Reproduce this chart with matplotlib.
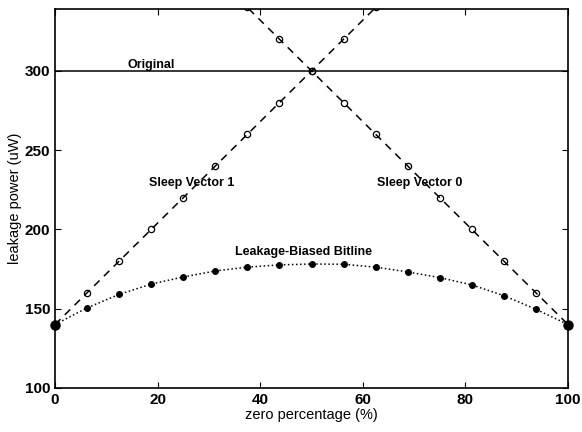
import numpy as np
import matplotlib
matplotlib.use("Agg")
from matplotlib import pyplot as plt

plt.rcParams['font.family'] = ['Liberation Sans', 'DejaVu Sans']

# zero percentage (%)
zero_pct = [0, 6.25, 12.5, 18.75, 25, 31.25, 37.5, 43.75, 50,
            56.25, 62.5, 68.75, 75, 81.25, 87.5, 93.75, 100]
original = [300] * len(zero_pct)
sleep_vec1 = [140, 160, 180, 200, 220, 240, 260, 280, 300,
              320, 340, 360, 380, 400, 420, 440, 460]
sleep_vec0 = sleep_vec1[::-1]
leak_biased = [140, 150.5, 159, 165.5, 170, 173.8, 176.2, 177.6, 178.2,
               178, 176.2, 173.2, 169.6, 165, 158.2, 149.6, 140]
end_x = [0, 100]
end_y = [140, 140]

fig = plt.figure(figsize=(5.82, 4.32), dpi=100)
ax = fig.add_axes([0.0945, 0.102, 0.8815, 0.877])

ax.plot(zero_pct, original, '-', color='black', lw=1.1)
ax.plot(zero_pct, sleep_vec1, '--', color='black', lw=1.1, marker='o',
        markersize=4.5, markerfacecolor='none', markeredgewidth=0.9, dashes=(5, 4))
ax.plot(zero_pct, sleep_vec0, '--', color='black', lw=1.1, marker='o',
        markersize=4.5, markerfacecolor='none', markeredgewidth=0.9, dashes=(5, 4))
ax.plot(zero_pct, leak_biased, ':', color='black', lw=1.1, marker='o',
        markersize=4, markerfacecolor='black')
ax.plot(end_x, end_y, 'o', color='black', markersize=6.5, clip_on=False, zorder=5)

# labels on the curves
fs = 9
ax.text(18.7, 304, 'Original', fontsize=fs, fontweight='bold', ha='center', va='center')
ax.text(26.7, 229, 'Sleep Vector 1', fontsize=fs, fontweight='bold', ha='center', va='center')
ax.text(71.1, 229, 'Sleep Vector 0', fontsize=fs, fontweight='bold', ha='center', va='center')
ax.text(48.5, 186, 'Leakage-Biased Bitline', fontsize=fs, fontweight='bold', ha='center', va='center')

ax.set_xlim(0, 100)
ax.set_ylim(100, 339)
ax.set_xticks([0, 20, 40, 60, 80, 100])
ax.set_yticks([100, 150, 200, 250, 300])
ax.tick_params(direction='in', top=True, right=True, length=4, labelsize=11)
for lab in ax.get_xticklabels() + ax.get_yticklabels():
    lab.set_fontweight('bold')
for s in ax.spines.values():
    s.set_linewidth(1.2)

ax.set_xlabel('zero percentage (%)', fontsize=10.5, labelpad=1)
ax.set_ylabel('leakage power (uW)', fontsize=10.5, labelpad=2)

fig.savefig('out.png', dpi=100)
